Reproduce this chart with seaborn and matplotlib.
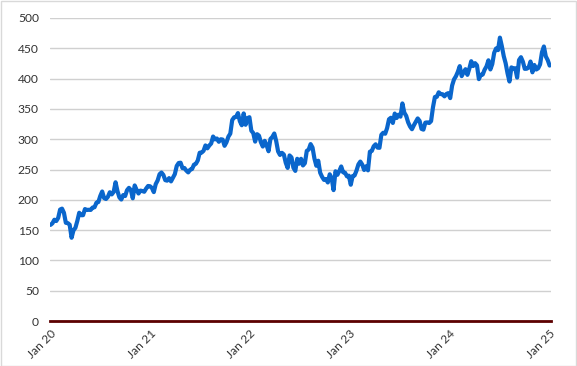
import matplotlib
matplotlib.use("Agg")
import matplotlib.pyplot as plt
import seaborn as sns
import pandas as pd
from matplotlib.patches import Rectangle

# Weekly closing values (Jan 2020 - Dec 2024)
close_2020 = [158.6, 161.3, 167.1, 165.0, 170.2, 183.9, 185.4, 178.6, 162.0, 161.6,
              158.8, 137.4, 149.7, 153.8, 165.1, 178.6, 174.6, 174.6, 184.7, 183.2,
              183.5, 183.3, 187.2, 187.7, 195.2, 196.3, 206.3, 213.7, 202.9, 201.3,
              205.0, 212.5, 208.9, 213.0, 228.9, 214.3, 204.0, 200.4, 207.8, 206.2,
              215.8, 219.7, 216.2, 202.5, 223.7, 216.5, 210.4, 215.2, 214.4, 213.3,
              218.6, 222.8, 222.4]
close_2021 = [219.6, 212.7, 225.9, 231.9, 242.2, 245.0, 241.0, 232.4, 231.6, 235.8,
              230.4, 236.5, 242.4, 255.9, 260.7, 261.2, 252.2, 252.5, 248.2, 245.2,
              249.7, 250.8, 257.9, 259.4, 265.0, 277.7, 277.9, 280.8, 289.7, 284.9,
              289.5, 292.9, 304.4, 299.7, 301.1, 295.7, 299.9, 299.4, 289.1, 294.9,
              304.2, 309.2, 331.6, 336.1, 336.7, 343.1, 329.7, 323.0, 342.5, 323.8,
              334.7, 336.3]
close_2022 = [314.0, 310.2, 296.0, 308.3, 305.9, 295.0, 287.9, 297.3, 289.9, 280.1,
              300.4, 303.7, 309.4, 297.0, 279.8, 274.0, 277.5, 274.7, 261.1, 252.6,
              273.2, 270.0, 253.0, 247.7, 267.7, 259.6, 267.7, 256.7, 260.4, 280.7,
              282.9, 291.9, 286.2, 268.1, 256.1, 264.5, 244.7, 237.9, 232.9, 234.2,
              228.6, 242.1, 235.9, 216.0, 247.1, 241.2, 247.5, 255.0, 245.4, 244.7,
              238.7, 239.8]
close_2023 = [224.9, 239.2, 240.2, 248.2, 258.4, 263.1, 258.1, 249.2, 255.3, 248.6,
              279.4, 280.6, 288.3, 291.6, 286.1, 285.8, 307.3, 310.7, 309.0, 318.3,
              332.9, 335.4, 326.8, 342.3, 335.0, 340.5, 337.2, 359.0, 343.8, 338.4,
              327.8, 321.0, 316.5, 323.0, 328.7, 334.3, 330.2, 317.0, 315.8, 327.3,
              327.7, 326.7, 329.8, 352.8, 369.7, 369.9, 377.4, 374.5, 374.2, 370.7,
              374.6, 376.0]
close_2024 = [367.8, 388.5, 398.7, 403.9, 411.2, 420.6, 404.1, 410.3, 415.5, 406.2,
              416.4, 428.7, 420.7, 425.5, 421.9, 399.1, 406.3, 406.7, 414.7, 420.2,
              430.2, 415.1, 423.9, 442.6, 449.8, 447.0, 467.6, 453.6, 437.1, 425.3,
              408.5, 395.2, 418.5, 416.8, 417.1, 401.7, 430.6, 435.3, 428.0, 416.1,
              416.3, 418.2, 428.2, 410.4, 422.5, 415.0, 417.0, 423.5, 443.6, 453.0,
              436.6, 430.5, 421.5]

close = close_2020 + close_2021 + close_2022 + close_2023 + close_2024
dates = pd.date_range("2020-01-03", periods=len(close), freq="W-FRI")
df = pd.DataFrame({"date": dates, "close": close})

y_ticks = [0, 50, 100, 150, 200, 250, 300, 350, 400, 450, 500]
x_tick_years = [2020, 2021, 2022, 2023, 2024, 2025]
x_tick_labels = ["Jan 20", "Jan 21", "Jan 22", "Jan 23", "Jan 24", "Jan 25"]

sns.set_style("white")
plt.rcParams["font.family"] = ["Lato", "DejaVu Sans"]

fig = plt.figure(figsize=(5.77, 3.66), dpi=100)
ax = fig.add_axes([50 / 577, 1 - 321 / 366, 501 / 577, 303 / 366])

sns.lineplot(data=df, x="date", y="close", ax=ax, color="#0A66CC", linewidth=3.0)

ax.set_ylim(0, 500)
ax.set_xlim(pd.Timestamp("2020-01-01"), pd.Timestamp("2025-01-08"))
ax.set_yticks(y_ticks)
ax.set_yticklabels([str(v) for v in y_ticks])
xt = [pd.Timestamp(f"{y}-01-01") for y in x_tick_years]
ax.set_xticks(xt)
ax.set_xticklabels(x_tick_labels, rotation=45, ha="right", rotation_mode="anchor")

ax.grid(axis="y", color="#D0D0D0", linewidth=1.0)
ax.grid(axis="x", visible=False)
ax.set_axisbelow(True)
for s in ["top", "right", "left"]:
    ax.spines[s].set_visible(False)
ax.spines["bottom"].set_color("#5C0000")
ax.spines["bottom"].set_linewidth(2.0)
ax.spines["bottom"].set_zorder(3)

ax.tick_params(axis="y", length=0, pad=8, labelsize=8.7, labelcolor="#333333")
ax.tick_params(axis="x", length=3, width=0.8, color="#BFBFBF", pad=2,
               labelsize=8.7, labelcolor="#333333", direction="out")
ax.set_xlabel("")
ax.set_ylabel("")

fig.patches.append(Rectangle((0.5 / 577, 0.5 / 366), 1 - 1.5 / 577, 1 - 1.5 / 366,
                             transform=fig.transFigure, fill=False,
                             edgecolor="#D9D9D9", linewidth=1.0))

fig.savefig("out.png", dpi=100)
